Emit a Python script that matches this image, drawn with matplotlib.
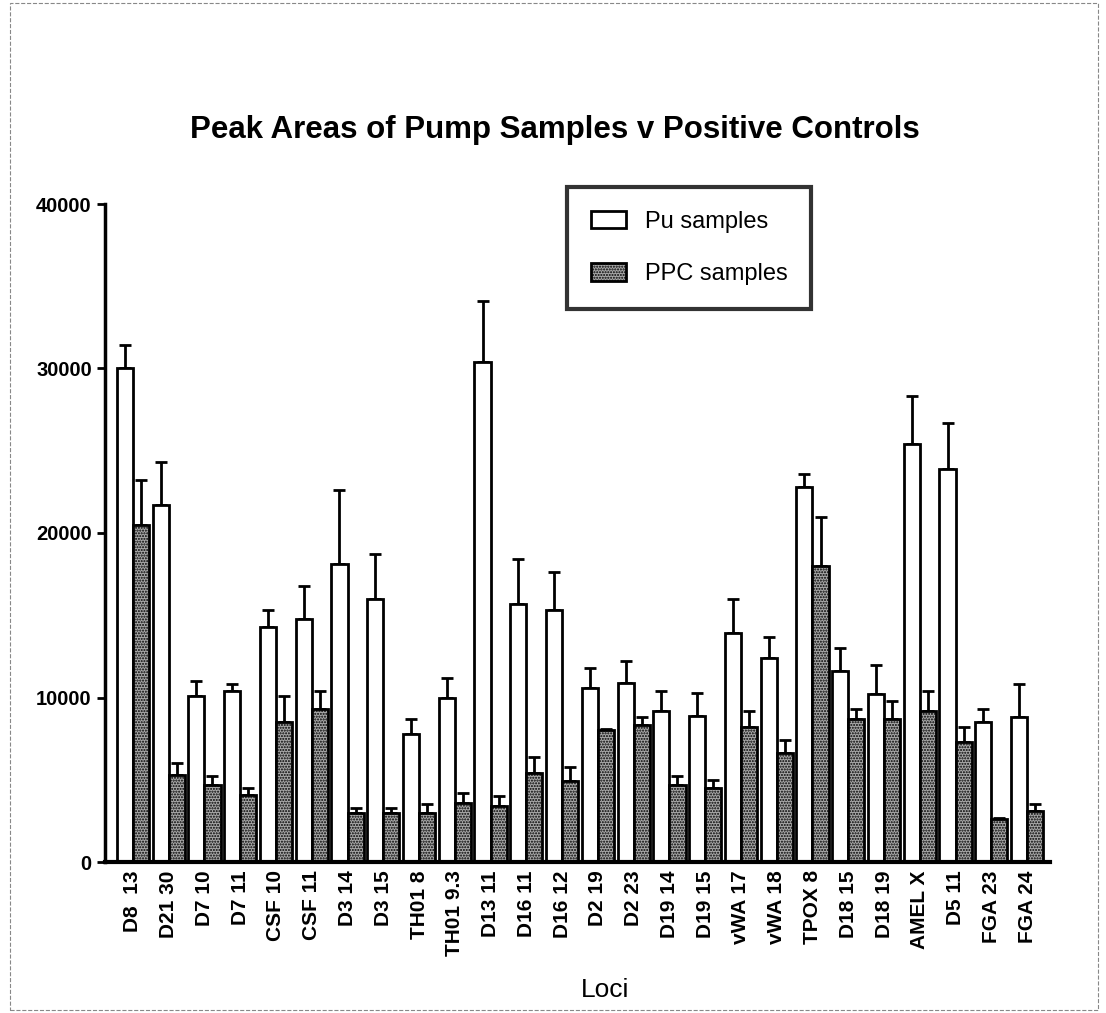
import matplotlib
matplotlib.use("Agg")
import matplotlib.pyplot as plt
import numpy as np
from matplotlib.patches import Rectangle

plt.rcParams['font.family'] = ['Liberation Sans', 'DejaVu Sans']

# === DATA ===
loci = ["D8  13", "D21 30", "D7 10", "D7 11", "CSF 10", "CSF 11", "D3 14", "D3 15",
        "TH01 8", "TH01 9.3", "D13 11", "D16 11", "D16 12", "D2 19", "D2 23",
        "D19 14", "D19 15", "vWA 17", "vWA 18", "TPOX 8", "D18 15", "D18 19",
        "AMEL X", "D5 11", "FGA 23", "FGA 24"]
pu_mean = [30000, 21700, 10100, 10400, 14300, 14800, 18100, 16000, 7800, 10000,
           30400, 15700, 15300, 10600, 10900, 9200, 8900, 13900, 12400, 22800,
           11600, 10200, 25400, 23900, 8500, 8800]
pu_err = [1400, 2600, 900, 400, 1000, 2000, 4500, 2700, 900, 1200,
          3700, 2700, 2300, 1200, 1300, 1200, 1400, 2100, 1300, 800,
          1400, 1800, 2900, 2800, 800, 2000]
ppc_mean = [20500, 5300, 4700, 4100, 8500, 9300, 3000, 3000, 3000, 3600,
            3400, 5400, 4900, 8000, 8300, 4700, 4500, 8200, 6600, 18000,
            8700, 8700, 9200, 7300, 2600, 3100]
ppc_err = [2700, 700, 500, 400, 1600, 1100, 300, 300, 500, 600,
           600, 1000, 900, 100, 500, 500, 500, 1000, 800, 3000,
           600, 1100, 1200, 900, 100, 400]

x = np.arange(len(loci))
w = 0.45

fig = plt.figure(figsize=(11.06, 10.13), dpi=100)
ax = fig.add_axes([105 / 1106, 1 - 862 / 1013, 945 / 1106, 658 / 1013])

ax.bar(x - w / 2, pu_mean, w, color="white", edgecolor="black", linewidth=2,
       label="Pu samples", zorder=2)
ax.bar(x + w / 2, ppc_mean, w, color="#a8a8a8", edgecolor="black", linewidth=2,
       hatch="......", label="PPC samples", zorder=2)

ax.errorbar(x - w / 2, pu_mean, yerr=[np.zeros(len(x)), pu_err], fmt="none",
            ecolor="black", elinewidth=2, capsize=4, capthick=2, zorder=1)
ax.errorbar(x + w / 2, ppc_mean, yerr=[np.zeros(len(x)), ppc_err], fmt="none",
            ecolor="black", elinewidth=2, capsize=4, capthick=2, zorder=1)

ax.set_xlim(-0.78, 25.64)
ax.set_ylim(0, 40000)
ax.set_yticks([0, 10000, 20000, 30000, 40000])
ax.set_yticklabels(["0", "10000", "20000", "30000", "40000"],
                   fontsize=14.5, fontweight="bold")
ax.set_xticks(x)
ax.set_xticklabels(loci, rotation=90, fontsize=15, fontweight="bold")
ax.tick_params(axis="x", length=0, pad=6)
ax.tick_params(axis="y", length=6, width=2)

for s in ["top", "right"]:
    ax.spines[s].set_visible(False)
ax.spines["left"].set_linewidth(2.5)
ax.spines["bottom"].set_linewidth(3)

fig.text(555 / 1106, 1 - 130 / 1013, "Peak Areas of Pump Samples v Positive Controls",
         ha="center", va="center", fontsize=22.5, fontweight="bold")
fig.text(605 / 1106, 1 - 990 / 1013, "Loci", ha="center", va="center", fontsize=19)

leg = ax.legend(loc="upper left", bbox_to_anchor=(567 / 1106, 1 - 187 / 1013),
                bbox_transform=fig.transFigure, borderaxespad=0, fontsize=17,
                frameon=True, fancybox=False, edgecolor="black", labelspacing=1.3,
                handlelength=1.5, handleheight=0.75, handletextpad=0.8,
                borderpad=1.0)
leg.get_frame().set_linewidth(3)

# scanned page frame
fig.patches.append(Rectangle((10 / 1106, 0.003), 1088 / 1106, 0.994,
                             transform=fig.transFigure, fill=False,
                             edgecolor="#888888", linewidth=0.8, linestyle="--"))

fig.savefig("out.png", dpi=100)
